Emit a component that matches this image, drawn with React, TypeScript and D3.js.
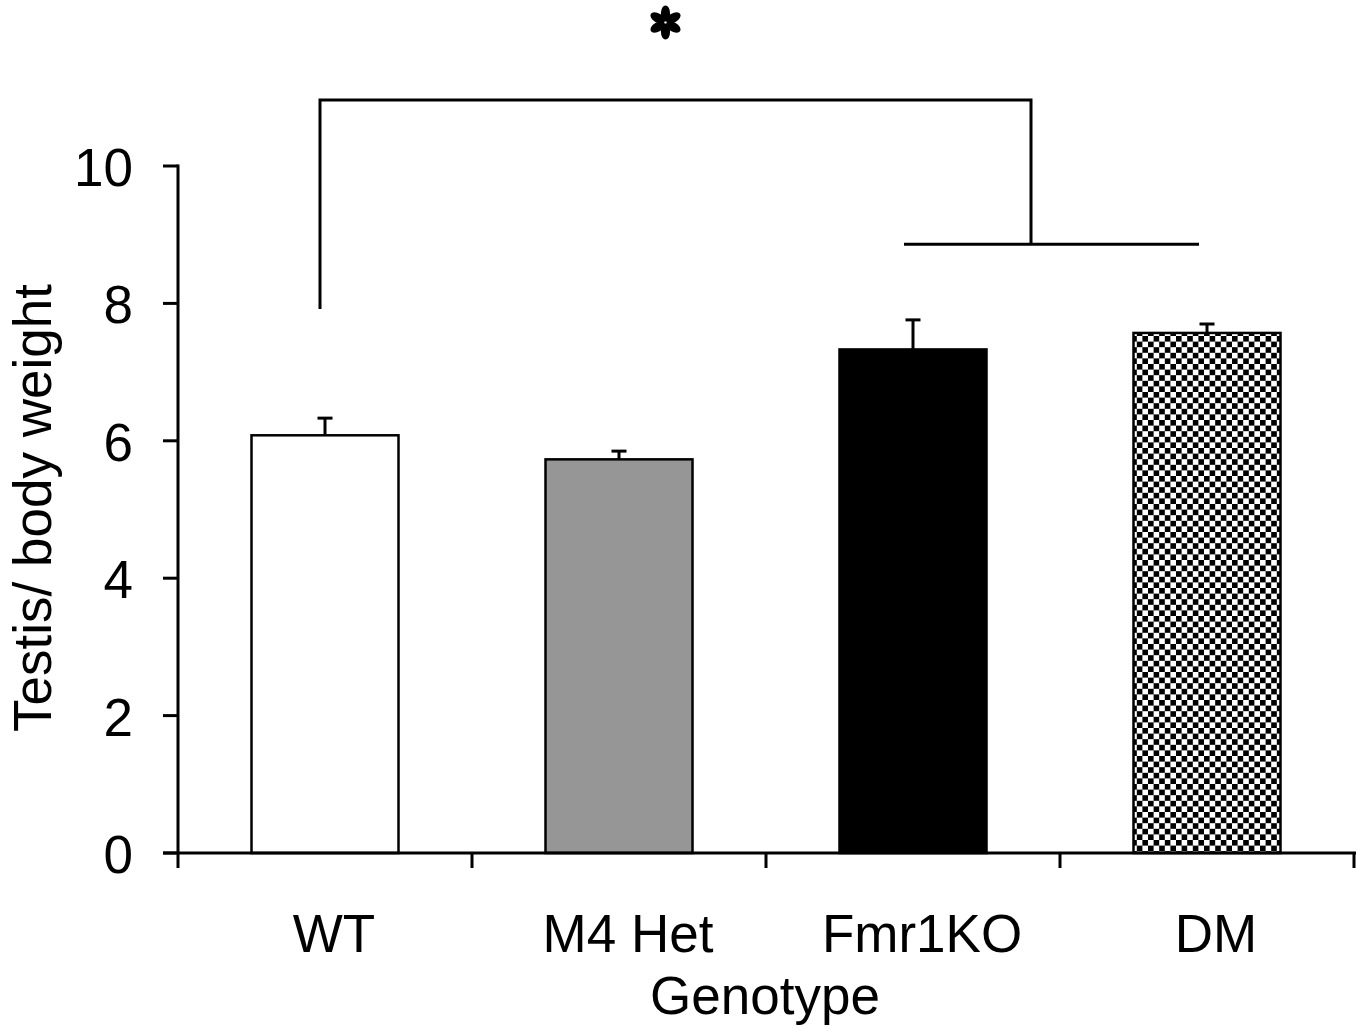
import React from 'react';
import * as d3 from 'd3';

const genotypes = ['WT', 'M4 Het', 'Fmr1KO', 'DM'];
const means = [6.08, 5.73, 7.33, 7.57];
const errors = [0.25, 0.12, 0.43, 0.13];
const yTicks = [0, 2, 4, 6, 8, 10];

const W = 1369;
const H = 1032;
const FONT = 'Arial, "Liberation Sans", Helvetica, sans-serif';
const FS = 53;

export default function App() {
  const x = d3.scaleBand<string>().domain(genotypes).range([178, 1354]).paddingInner(0).paddingOuter(0);
  const y = d3.scaleLinear().domain([0, 10]).range([853, 166]);
  const bw = x.bandwidth() / 2;
  const fills = ['#ffffff', '#969696', '#000000', 'url(#checker)'];
  const mid = (g: string) => x(g)! + x.bandwidth() / 2;

  // significance bracket: WT vs (Fmr1KO, DM)
  const wtX = mid('WT') - 5;
  const groupL = mid('Fmr1KO') - 9;
  const groupR = mid('DM') - 8;
  const groupMid = 1031;
  const topY = y(10.96);
  const groupY = y(8.86);
  const wtLow = y(7.92);

  // six-petal asterisk
  const starX = 665.5;
  const starY = 22.5;

  return (
    <svg width={W} height={H} style={{ display: 'block', position: 'absolute', left: 0, top: 0 }}>
      <defs>
        <pattern id="checker" width={11.2} height={11.2} patternUnits="userSpaceOnUse">
          <rect width={11.2} height={11.2} fill="#fff" />
          <rect width={5.6} height={5.6} fill="#000" />
          <rect x={5.6} y={5.6} width={5.6} height={5.6} fill="#000" />
        </pattern>
      </defs>
      <rect width={W} height={H} fill="#fff" />

      {/* bars */}
      {genotypes.map((g, i) => {
        const cx = mid(g);
        const top = y(means[i]);
        const eTop = y(means[i] + errors[i]);
        return (
          <g key={g}>
            <line x1={cx} x2={cx} y1={top} y2={eTop} stroke="#000" strokeWidth={3} />
            <line x1={cx - 7.5} x2={cx + 7.5} y1={eTop} y2={eTop} stroke="#000" strokeWidth={3} />
            <rect x={cx - bw / 2} y={top} width={bw} height={y(0) - top} fill={fills[i]} stroke="#000" strokeWidth={2.5} />
          </g>
        );
      })}

      {/* y axis */}
      <line x1={178} x2={178} y1={y(10) - 1.5} y2={y(0)} stroke="#000" strokeWidth={3} />
      {yTicks.map((t) => (
        <g key={t}>
          <line x1={163} x2={178} y1={y(t)} y2={y(t)} stroke="#000" strokeWidth={3} />
          <text x={133} y={y(t) + 20} textAnchor="end" fontFamily={FONT} fontSize={FS} fill="#000">
            {t}
          </text>
        </g>
      ))}

      {/* x axis */}
      <line x1={163} x2={1356} y1={y(0)} y2={y(0)} stroke="#000" strokeWidth={3} />
      {[...genotypes.map((g) => x(g)!), 1354].map((v, i) => (
        <line key={i} x1={v} x2={v} y1={y(0)} y2={y(0) + 15} stroke="#000" strokeWidth={3} />
      ))}
      {genotypes.map((g) => (
        <text key={g} x={mid(g) + 9} y={952} textAnchor="middle" fontFamily={FONT} fontSize={FS} fill="#000">
          {g}
        </text>
      ))}
      <text x={765} y={1014} textAnchor="middle" fontFamily={FONT} fontSize={FS} fill="#000">
        Genotype
      </text>
      <text
        transform={`translate(51,508) rotate(-90)`}
        textAnchor="middle"
        fontFamily={FONT}
        fontSize={FS}
        fill="#000"
      >
        Testis/ body weight
      </text>

      {/* significance bracket */}
      <path
        d={`M${wtX},${wtLow}V${topY}H${groupMid}V${groupY}`}
        fill="none"
        stroke="#000"
        strokeWidth={3}
      />
      <line x1={groupL} x2={groupR} y1={groupY} y2={groupY} stroke="#000" strokeWidth={3} />
      <g transform={`translate(${starX},${starY})`} fill="#000">
        {d3.range(6).map((k) => (
          <ellipse key={k} cx={0} cy={-9} rx={4.6} ry={8} transform={`rotate(${k * 60})`} />
        ))}
      </g>
    </svg>
  );
}
